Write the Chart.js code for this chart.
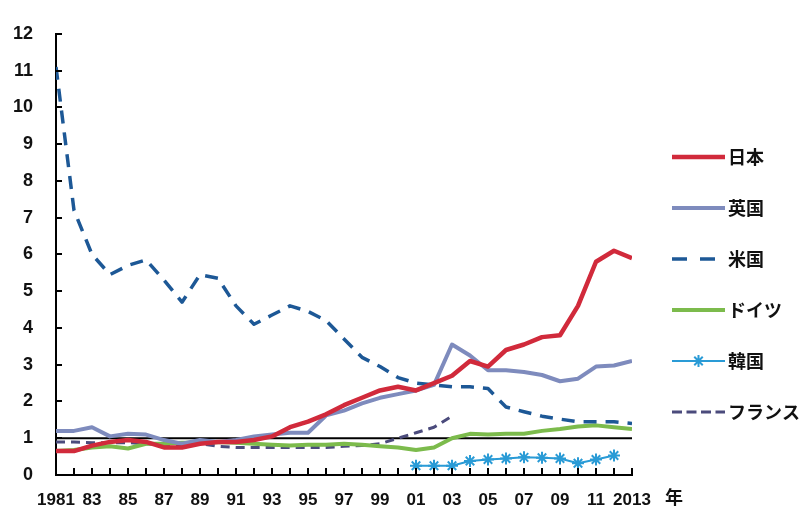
<!DOCTYPE html>
<html>
<head>
<meta charset="utf-8">
<script src="https://cdn.jsdelivr.net/npm/chart.js@4/dist/chart.umd.min.js"></script>
<style>
  html, body { margin: 0; padding: 0; background: #ffffff; }
  #wrap { width: 806px; height: 509px; position: relative; }
</style>
</head>
<body>
<div id="wrap"><canvas id="c" width="806" height="509"></canvas></div>
<script>
// Years on the horizontal axis
const years = [];
for (let y = 1981; y <= 2013; y++) years.push(y);

// Series values, one entry per year (null = no data)
const japan = [0.65, 0.65, 0.8, 0.9, 0.95, 0.9, 0.75, 0.75, 0.85, 0.9, 0.9, 0.95, 1.05, 1.3, 1.45, 1.65, 1.9, 2.1, 2.3, 2.4, 2.3, 2.5, 2.7, 3.1, 2.95, 3.4, 3.55, 3.75, 3.8, 4.6, 5.8, 6.1, 5.9];
const uk = [1.2, 1.2, 1.3, 1.05, 1.12, 1.1, 0.95, 0.85, 0.95, 0.9, 0.95, 1.05, 1.1, 1.15, 1.15, 1.62, 1.75, 1.95, 2.1, 2.2, 2.3, 2.45, 3.55, 3.25, 2.85, 2.85, 2.8, 2.72, 2.55, 2.62, 2.95, 2.98, 3.1];
const us = [11.1, 7.2, 6.0, 5.45, 5.7, 5.85, 5.3, 4.7, 5.45, 5.35, 4.6, 4.1, 4.35, 4.6, 4.45, 4.2, 3.7, 3.2, 2.95, 2.65, 2.5, 2.45, 2.4, 2.4, 2.35, 1.85, 1.72, 1.6, 1.52, 1.45, 1.45, 1.45, 1.4];
const germany = [0.65, 0.68, 0.75, 0.78, 0.72, 0.85, 0.85, 0.88, 0.88, 0.9, 0.88, 0.85, 0.82, 0.8, 0.82, 0.82, 0.85, 0.82, 0.78, 0.75, 0.68, 0.75, 1.0, 1.12, 1.1, 1.12, 1.12, 1.2, 1.25, 1.32, 1.35, 1.3, 1.25];
const korea = [null, null, null, null, null, null, null, null, null, null, null, null, null, null, null, null, null, null, null, null, 0.25, 0.25, 0.25, 0.38, 0.42, 0.45, 0.48, 0.47, 0.45, 0.32, 0.42, 0.53, null];
const france = [0.9, 0.9, 0.88, 0.88, 0.88, 0.85, 0.82, 0.82, 0.85, 0.78, 0.75, 0.75, 0.75, 0.75, 0.75, 0.75, 0.78, 0.8, 0.85, 1.0, 1.15, 1.3, 1.6, null, null, null, null, null, null, null, null, null, null];

// Legend names
const seriesNames = ['日本', '英国', '米国', 'ドイツ', '韓国', 'フランス'];

// Y tick values
const yTicks = [0, 1, 2, 3, 4, 5, 6, 7, 8, 9, 10, 11, 12];
const referenceLevel = 1;
const yearUnit = '年';

const toPoints = arr => arr.map((v, i) => ({ x: years[i], y: v }));

const LABEL_FONT = '"Liberation Sans", Arial, sans-serif';
const CJK_FONT = '"Noto Sans CJK JP", sans-serif';

const datasets = [
  { label: seriesNames[0], data: toPoints(japan), borderColor: '#d12a3b', borderWidth: 4.5, pointRadius: 0 },
  { label: seriesNames[1], data: toPoints(uk), borderColor: '#7e8bbd', borderWidth: 4, pointRadius: 0 },
  { label: seriesNames[2], data: toPoints(us), borderColor: '#1d5896', borderWidth: 3.5, borderDash: [13, 9], pointRadius: 0,
    legendDash: [15, 13], legendEnd: 715 },
  { label: seriesNames[3], data: toPoints(germany), borderColor: '#7cbb4c', borderWidth: 4, pointRadius: 0 },
  { label: seriesNames[4], data: toPoints(korea), borderColor: '#2a9bd6', borderWidth: 2, pointStyle: 'star', pointRadius: 6, pointBorderWidth: 2, pointBorderColor: '#2a9bd6', pointBackgroundColor: '#2a9bd6' },
  { label: seriesNames[5], data: toPoints(france), borderColor: '#4b4b7c', borderWidth: 3, borderDash: [9, 6], pointRadius: 0,
    legendDash: [10, 4.5] }
].map(d => Object.assign({ fill: false, tension: 0, spanGaps: false, borderCapStyle: 'butt', borderJoinStyle: 'round' }, d));

// Inward tick marks, the reference line at 1, the year unit and the legend
const decorations = {
  id: 'decorations',
  beforeDatasetsDraw(chart) {
    const { ctx, chartArea: a, scales: { x, y } } = chart;
    ctx.save();
    const yr = y.getPixelForValue(referenceLevel);
    ctx.strokeStyle = '#000';
    ctx.lineWidth = 2;
    ctx.beginPath();
    ctx.moveTo(a.left, yr);
    ctx.lineTo(x.getPixelForValue(years[years.length - 1]), yr);
    ctx.stroke();
    ctx.restore();
  },
  afterDraw(chart) {
    const { ctx, chartArea: a, scales: { x, y } } = chart;
    ctx.save();
    ctx.strokeStyle = '#000';
    ctx.lineWidth = 2;
    ctx.beginPath();
    yTicks.forEach(v => {
      const py = Math.round(y.getPixelForValue(v));
      ctx.moveTo(a.left, py);
      ctx.lineTo(a.left + 6, py);
    });
    years.forEach(yr => {
      const px = Math.round(x.getPixelForValue(yr));
      ctx.moveTo(px, a.bottom);
      ctx.lineTo(px, a.bottom - 7);
    });
    ctx.stroke();

    // unit after the last year label
    ctx.fillStyle = '#111';
    ctx.font = 'bold 18px ' + CJK_FONT;
    ctx.textAlign = 'center';
    ctx.textBaseline = 'middle';
    ctx.fillText(yearUnit, 674, 497);

    // legend
    const lx0 = 672, lx1 = 725, ly0 = 157, step = 51;
    chart.data.datasets.forEach((ds, i) => {
      const ly = ly0 + i * step;
      ctx.save();
      ctx.strokeStyle = ds.borderColor;
      ctx.lineWidth = ds.borderWidth;
      ctx.lineCap = 'butt';
      if (ds.legendDash) ctx.setLineDash(ds.legendDash);
      ctx.beginPath();
      ctx.moveTo(lx0, ly);
      ctx.lineTo(ds.legendEnd || lx1, ly);
      ctx.stroke();
      ctx.setLineDash([]);
      if (ds.pointStyle === 'star') {
        const cx = (lx0 + lx1) / 2, r = ds.pointRadius;
        ctx.lineWidth = ds.pointBorderWidth;
        ctx.beginPath();
        for (let k = 0; k < 4; k++) {
          const ang = k * Math.PI / 4;
          ctx.moveTo(cx - r * Math.cos(ang), ly - r * Math.sin(ang));
          ctx.lineTo(cx + r * Math.cos(ang), ly + r * Math.sin(ang));
        }
        ctx.stroke();
      }
      ctx.restore();
      ctx.fillStyle = '#111';
      ctx.font = 'bold 18px ' + CJK_FONT;
      ctx.textAlign = 'left';
      ctx.textBaseline = 'middle';
      ctx.fillText(ds.label, lx1 + 3, ly);
    });
    ctx.restore();
  }
};

new Chart(document.getElementById('c'), {
  type: 'line',
  data: { datasets },
  options: {
    responsive: false,
    animation: false,
    events: [],
    layout: { padding: { left: 0, top: 20, right: 806 - 632, bottom: 0 } },
    plugins: { legend: { display: false }, tooltip: { enabled: false } },
    scales: {
      x: {
        type: 'linear',
        min: years[0],
        max: years[years.length - 1],
        afterFit: s => { s.height = 34; },
        afterBuildTicks: s => { s.ticks = years.map(v => ({ value: v })); },
        border: { display: true, color: '#000', width: 2 },
        grid: { display: false, drawTicks: false },
        ticks: {
          autoSkip: false,
          maxRotation: 0,
          padding: 15,
          color: '#111',
          font: { family: LABEL_FONT, size: 17, weight: 'bold' },
          callback: v => {
            if ((v - years[0]) % 2 !== 0) return '';
            if (v === years[0] || v === years[years.length - 1]) return String(v);
            return String(v).slice(2);
          }
        }
      },
      y: {
        min: 0,
        max: 12,
        afterFit: s => { s.width = 56; },
        afterBuildTicks: s => { s.ticks = yTicks.map(v => ({ value: v })); },
        border: { display: true, color: '#000', width: 2 },
        grid: { display: false, drawTicks: false },
        ticks: {
          padding: 23,
          color: '#111',
          font: { family: LABEL_FONT, size: 18, weight: 'bold' }
        }
      }
    }
  },
  plugins: [decorations]
});
</script>
</body>
</html>
